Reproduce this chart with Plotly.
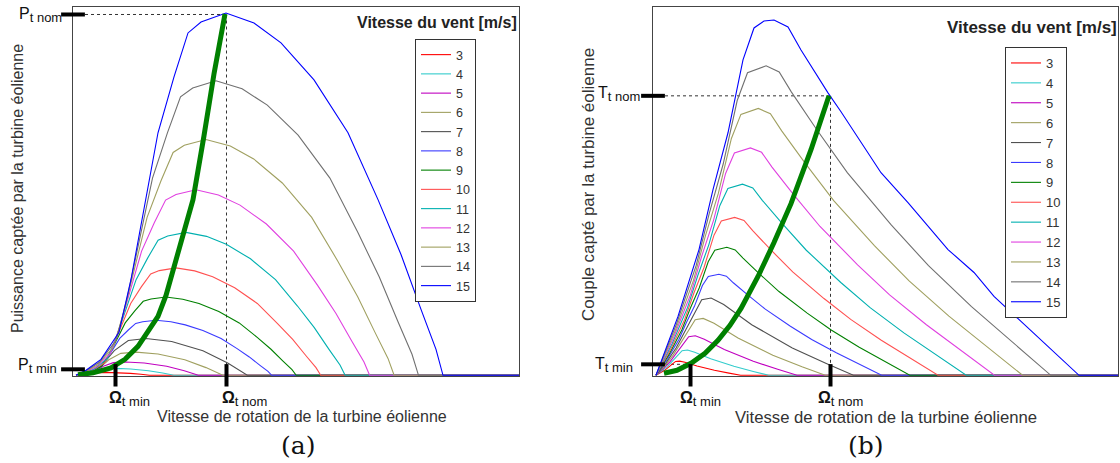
import plotly.graph_objects as go

W, H = 1120, 463
FONT = "Liberation Sans, Arial, sans-serif"

# ---------------- data ----------------
SPEEDS = [3, 4, 5, 6, 7, 8, 9, 10, 11, 12, 13, 14, 15]
COLORS = ["#ff0000", "#33cccc", "#c000c0", "#a0a060", "#505050", "#3a3aff", "#008000",
          "#ff5050", "#00b0b0", "#e040e0", "#a0a060", "#707070", "#0000ff"]

# (a) captured power vs rotation speed (arbitrary units)
w_p03 = [3, 8, 14, 19.4, 25.4, 33, 44, 57.4, 68, 72, 76.4, 446]
p03 = [0, 0.1, 0.8, 1.9, 2.7, 2.9, 2.7, 1.9, 1, 0.5, 0, 0]
w_p04 = [3, 9.7, 17.7, 24.9, 32.9, 43, 57.7, 75.5, 89.7, 95, 100.9, 446]
p04 = [0, 0.3, 1.8, 4.6, 6.5, 6.9, 6.3, 4.6, 2.3, 1.3, 0, 0]
w_p05 = [3, 11.3, 21.3, 30.3, 40.3, 53, 71.3, 93.7, 111.3, 118, 125.3, 446]
p05 = [0, 0.6, 3.6, 9, 12.7, 13.4, 12.3, 9, 4.5, 2.4, 0, 0]
w_p06 = [3, 13, 25, 35.8, 47.8, 63, 85, 111.8, 133, 141, 149.8, 446]
p06 = [0, 1, 6.1, 15.6, 22, 23.2, 21.3, 15.6, 7.7, 4.2, 0, 0]
w_p07 = [3, 14.7, 28.7, 41.3, 55.3, 73, 98.7, 129.9, 154.7, 164, 174.3, 446]
p07 = [0, 1.6, 9.8, 24.7, 34.8, 36.9, 33.8, 24.7, 12.3, 6.7, 0, 0]
w_p08 = [3, 8.3, 16.3, 25.9, 32.3, 40.3, 46.7, 55.3, 62.7, 69.7, 83, 97.9, 112.3, 129.9,
         148.1, 164.1, 176.3, 187, 195, 198.7, 446]
p08 = [0, 0.8, 2.4, 6.5, 14.6, 26.7, 36.9, 45.4, 52, 53.7, 55.1, 53.6, 50.5, 44.9,
       36.9, 26.7, 18.4, 10, 3.9, 0, 0]
w_p09 = [3, 9, 18, 28.8, 36, 45, 52.2, 61.8, 70.2, 78, 93, 109.8, 126, 145.8,
         166.2, 184.2, 198, 210, 219, 223.2, 446]
p09 = [0, 1.1, 3.5, 9.3, 20.7, 38, 52.5, 64.6, 74.1, 76.5, 78.4, 76.2, 71.9, 63.9,
       52.5, 38, 26.1, 14.3, 5.6, 0, 0]
w_p10 = [3, 9.7, 19.7, 31.7, 39.7, 49.7, 57.7, 68.3, 77.7, 86.3, 103, 121.7, 139.7, 161.7,
         184.3, 204.3, 219.7, 233, 243, 247.7, 446]
p10 = [0, 1.5, 4.7, 12.7, 28.4, 52.1, 72, 88.6, 101.6, 104.9, 107.6, 104.6, 98.7, 87.7,
       72, 52.1, 35.9, 19.6, 7.7, 0, 0]
w_p11 = [3, 10.3, 21.3, 34.5, 43.3, 54.3, 63.1, 74.9, 85.1, 94.7, 113, 133.5, 153.3, 177.5,
         202.5, 224.5, 241.3, 256, 267, 272.1, 446]
p11 = [0, 2, 6.3, 17, 37.9, 69.4, 95.8, 117.9, 135.3, 139.6, 143.2, 139.2, 131.3, 116.7,
       95.8, 69.4, 47.7, 26, 10.3, 0, 0]
w_p12 = [3, 11, 23, 37.4, 47, 59, 68.6, 81.4, 92.6, 103, 123, 145.4, 167, 193.4,
         220.6, 244.6, 263, 279, 291, 296.6, 446]
p12 = [0, 2.6, 8.2, 22, 49.2, 90.1, 124.4, 153.1, 175.6, 181.2, 185.9, 180.7, 170.5, 151.6,
       124.4, 90.1, 62, 33.8, 13.3, 0, 0]
w_p13 = [3, 11.7, 24.7, 40.3, 50.7, 63.7, 74.1, 87.9, 100.1, 111.3, 133, 157.3, 180.7, 209.3,
         238.7, 264.7, 284.7, 302, 315, 321.1, 446]
p13 = [0, 3.3, 10.4, 28, 62.5, 114.6, 158.2, 194.6, 223.3, 230.5, 236.3, 229.8, 216.8, 192.7,
       158.2, 114.6, 78.8, 43, 16.9, 0, 0]
w_p14 = [3, 12.3, 26.3, 43.1, 54.3, 68.3, 79.5, 94.5, 107.5, 119.7, 143, 169.1, 194.3, 225.1,
         256.9, 284.9, 306.3, 325, 339, 345.5, 446]
p14 = [0, 4.1, 13, 35, 78, 143.1, 197.6, 243.1, 278.9, 287.8, 295.1, 287, 270.7, 240.6,
       197.6, 143.1, 98.4, 53.7, 21.1, 0, 0]
w_p15 = [3, 13, 28, 46, 58, 73, 85, 101, 115, 128, 153, 181, 208, 241,
         275, 305, 328, 348, 363, 370, 446]
p15 = [0, 5, 16, 43, 96, 176, 243, 299, 343, 354, 363, 353, 333, 296,
       243, 176, 121, 66, 26, 0, 0]

# optimal (MPPT) power curve
w_opt_a = [5, 20, 38, 52, 65, 75, 85, 93, 101, 111, 120, 131, 141, 152]
p_opt = [0.5, 2.5, 7.5, 16, 29, 43, 59, 80, 109, 143, 176, 240, 302, 362]

OMEGA_MIN_A, OMEGA_NOM_A = 42.5, 153.5
P_MIN, P_NOM = 6, 361.5

# (b) captured torque vs rotation speed
w_t03 = [3, 7.4, 11.6, 17.4, 22.6, 26.6, 32, 44, 61.4, 76, 87.6, 465]
t03 = [0, 2.4, 5, 9.7, 13.9, 14.2, 13, 9.3, 5, 2.2, 0, 0]
w_t04 = [3, 8.9, 14.5, 22.2, 29.1, 34.5, 41.7, 57.7, 80.9, 100.3, 115.8, 465]
t04 = [0, 4.2, 9, 17.3, 24.7, 25.3, 23.2, 16.6, 9, 3.8, 0, 0]
w_t05 = [3, 10.3, 17.3, 27, 35.7, 42.3, 51.3, 71.3, 100.3, 124.7, 144, 465]
t05 = [0, 6.6, 14, 27, 38.7, 39.6, 36.2, 25.9, 14, 6, 0, 0]
w_t06 = [3, 11.8, 20.2, 31.8, 42.2, 50.2, 61, 85, 119.8, 149, 172.2, 465]
t06 = [0, 9.4, 20.2, 38.9, 55.7, 57, 52.2, 37.3, 20.2, 8.6, 0, 0]
w_t07 = [3, 13.3, 23.1, 36.6, 48.7, 58.1, 70.7, 98.7, 139.3, 173.3, 200.4, 465]
t07 = [0, 12.9, 27.4, 52.9, 75.8, 77.5, 71, 50.7, 27.4, 11.8, 0, 0]
w_t08 = [3, 8.3, 14.7, 25.9, 33.4, 41.4, 49.4, 55.3, 65.9, 73.4, 80.3, 94.7, 112.3, 137.4,
         158.7, 183.3, 197.7, 213.7, 228.6, 465]
t08 = [0, 7.4, 16.8, 35.8, 52.9, 69.1, 89.9, 99, 101.2, 99.3, 92.7, 80.5, 66.3, 49.2,
       35.8, 22.5, 15.4, 7.4, 0, 0]
w_t09 = [3, 9, 16.2, 28.8, 37.2, 46.2, 55.2, 61.8, 73.8, 82.2, 90, 106.2, 126, 154.2,
         178.2, 205.8, 222, 240, 256.8, 465]
t09 = [0, 9.4, 21.2, 45.4, 67, 87.5, 113.8, 125.3, 128.2, 125.6, 117.4, 101.9, 83.9, 62.3,
       45.4, 28.4, 19.4, 9.4, 0, 0]
w_t10 = [3, 9.7, 17.7, 31.7, 41, 51, 61, 68.3, 81.7, 91, 99.7, 117.7, 139.7, 171,
         197.7, 228.3, 246.3, 266.3, 285, 465]
t10 = [0, 11.6, 26.2, 56, 82.7, 108, 140.4, 154.7, 158.2, 155.1, 144.9, 125.8, 103.6, 76.9,
       56, 35.1, 24, 11.6, 0, 0]
w_t11 = [3, 10.3, 19.1, 34.5, 44.8, 55.8, 66.8, 74.9, 89.5, 99.8, 109.3, 129.1, 153.3, 187.8,
         217.1, 250.9, 270.7, 292.7, 313.2, 465]
t11 = [0, 14, 31.7, 67.8, 100, 130.7, 169.9, 187.2, 191.5, 187.7, 175.3, 152.2, 125.3, 93,
       67.8, 42.5, 29, 14, 0, 0]
w_t12 = [3, 11, 20.6, 37.4, 48.6, 60.6, 72.6, 81.4, 97.4, 108.6, 119, 140.6, 167, 204.6,
         236.6, 273.4, 295, 319, 341.4, 465]
t12 = [0, 16.6, 37.8, 80.6, 119, 155.5, 202.2, 222.7, 227.8, 223.4, 208.6, 181.1, 149.1, 110.7,
       80.6, 50.6, 34.6, 16.6, 0, 0]
w_t13 = [3, 11.7, 22.1, 40.3, 52.4, 65.4, 78.4, 87.9, 105.3, 117.4, 128.7, 152.1, 180.7, 221.4,
         256.1, 295.9, 319.3, 345.3, 369.6, 465]
t13 = [0, 19.5, 44.3, 94.6, 139.7, 182.5, 237.3, 261.4, 267.4, 262.1, 244.9, 212.6, 175, 129.9,
       94.6, 59.3, 40.6, 19.5, 0, 0]
w_t14 = [3, 12.3, 23.5, 43.1, 56.2, 70.2, 84.2, 94.5, 113.1, 126.2, 138.3, 163.5, 194.3, 238.2,
         275.5, 318.5, 343.7, 371.7, 397.8, 465]
t14 = [0, 22.6, 51.4, 109.8, 162, 211.7, 275.3, 303.1, 310.1, 304, 284, 246.5, 203, 150.7,
       109.8, 68.8, 47, 22.6, 0, 0]
w_t15 = [3, 13, 25, 46, 60, 75, 83, 90, 101, 111, 121, 135, 148, 175, 188, 208, 228, 255,
         275, 295, 321, 341, 368, 398, 426, 465]
t15 = [0, 26, 59, 126, 186, 243, 281, 316, 348, 355, 356, 349, 326, 283, 264, 233, 203, 173,
       149, 126, 103, 79, 54, 26, 0, 0]

# optimal torque curve
w_opt_b = [11, 24, 38, 52, 65, 77, 88, 105, 121, 138, 158, 176]
t_opt = [2, 5, 12, 22, 35, 50, 67, 99, 133, 172, 226, 280]

OMEGA_MIN_B, OMEGA_NOM_B = 37.5, 177.5
T_MIN, T_NOM = 11, 280

P_W = [w_p03, w_p04, w_p05, w_p06, w_p07, w_p08, w_p09, w_p10, w_p11, w_p12, w_p13, w_p14, w_p15]
P_V = [p03, p04, p05, p06, p07, p08, p09, p10, p11, p12, p13, p14, p15]
T_W = [w_t03, w_t04, w_t05, w_t06, w_t07, w_t08, w_t09, w_t10, w_t11, w_t12, w_t13, w_t14, w_t15]
T_V = [t03, t04, t05, t06, t07, t08, t09, t10, t11, t12, t13, t14, t15]

# ---------------- figure ----------------
fig = go.Figure()

for v, col, xs, ys in zip(SPEEDS, COLORS, P_W, P_V):
    fig.add_trace(go.Scatter(x=xs, y=ys, mode="lines", name=str(v),
                             line=dict(color=col, width=1.1),
                             xaxis="x", yaxis="y", legend="legend"))
for v, col, xs, ys in zip(SPEEDS, COLORS, T_W, T_V):
    fig.add_trace(go.Scatter(x=xs, y=ys, mode="lines", name=str(v),
                             line=dict(color=col, width=1.1),
                             xaxis="x2", yaxis="y2", legend="legend2"))

fig.add_trace(go.Scatter(x=w_opt_a, y=p_opt, mode="lines", showlegend=False,
                         line=dict(color="#008000", width=5), xaxis="x", yaxis="y"))
fig.add_trace(go.Scatter(x=w_opt_b, y=t_opt, mode="lines", showlegend=False,
                         line=dict(color="#008000", width=5), xaxis="x2", yaxis="y2"))

# black reference tick marks on the axes
tick_h = dict(symbol="line-ew", size=17, color="black", line=dict(width=4, color="black"))
tick_v = dict(symbol="line-ns", size=16, color="black", line=dict(width=4, color="black"))
fig.add_trace(go.Scatter(x=[0, 0], y=[P_MIN, P_NOM], mode="markers", marker=tick_h,
                         cliponaxis=False, showlegend=False, hoverinfo="skip", xaxis="x", yaxis="y"))
fig.add_trace(go.Scatter(x=[OMEGA_MIN_A, OMEGA_NOM_A], y=[0, 0], mode="markers", marker=tick_v,
                         cliponaxis=False, showlegend=False, hoverinfo="skip", xaxis="x", yaxis="y"))
fig.add_trace(go.Scatter(x=[0, 0], y=[T_MIN, T_NOM], mode="markers", marker=tick_h,
                         cliponaxis=False, showlegend=False, hoverinfo="skip", xaxis="x2", yaxis="y2"))
fig.add_trace(go.Scatter(x=[OMEGA_MIN_B, OMEGA_NOM_B], y=[0, 0], mode="markers", marker=tick_v,
                         cliponaxis=False, showlegend=False, hoverinfo="skip", xaxis="x2", yaxis="y2"))

dash = dict(color="#333333", width=1, dash="3px,3px")
shapes = [
    dict(type="line", xref="x", yref="y", x0=0, x1=OMEGA_NOM_A, y0=P_NOM, y1=P_NOM, line=dash, layer="below"),
    dict(type="line", xref="x", yref="y", x0=OMEGA_NOM_A, x1=OMEGA_NOM_A, y0=P_NOM, y1=0, line=dash, layer="below"),
    dict(type="line", xref="x2", yref="y2", x0=0, x1=OMEGA_NOM_B, y0=T_NOM, y1=T_NOM, line=dash, layer="below"),
    dict(type="line", xref="x2", yref="y2", x0=OMEGA_NOM_B, x1=OMEGA_NOM_B, y0=T_NOM, y1=0, line=dash, layer="below"),
    dict(type="line", xref="x2", yref="y2", x0=0, x1=OMEGA_MIN_B, y0=T_MIN, y1=T_MIN, line=dash, layer="below"),
]


def px(xp):
    return xp / W


def py(yp):
    return 1 - yp / H


SUB = "<sub><span style='font-size:13px'>%s</span></sub>"
txt = dict(family=FONT, color="#333333")
ann = []
# legend titles
ann.append(dict(text="<b>Vitesse du vent [m/s]</b>", xref="paper", yref="paper", x=px(519), y=py(23),
                xanchor="right", yanchor="middle", showarrow=False, font=dict(txt, size=16, color="#222222")))
ann.append(dict(text="<b>Vitesse du vent [m/s]</b>", xref="paper", yref="paper", x=px(1119), y=py(27),
                xanchor="right", yanchor="middle", showarrow=False, font=dict(txt, size=17, color="#222222")))
# axis titles
ann.append(dict(text="Vitesse de rotation de la turbine éolienne", xref="paper", yref="paper",
                x=px(301.5), y=py(416), xanchor="center", yanchor="middle", showarrow=False,
                font=dict(txt, size=16)))
ann.append(dict(text="Vitesse de rotation de la turbine éolienne", xref="paper", yref="paper",
                x=px(886), y=py(417), xanchor="center", yanchor="middle", showarrow=False,
                font=dict(txt, size=16.7)))
ann.append(dict(text="Puissance captée par la turbine éolienne", xref="paper", yref="paper",
                x=px(17), y=py(189), xanchor="center", yanchor="middle", textangle=-90, showarrow=False,
                font=dict(txt, size=16)))
ann.append(dict(text="Couple capté par la turbine éolienne", xref="paper", yref="paper",
                x=px(588), y=py(185), xanchor="center", yanchor="middle", textangle=-90, showarrow=False,
                font=dict(txt, size=17)))
# panel letters
for lab, xc in (("(a)", 298), ("(b)", 866)):
    ann.append(dict(text=lab, xref="paper", yref="paper", x=px(xc), y=py(445), xanchor="center",
                    yanchor="middle", showarrow=False,
                    font=dict(family="DejaVu Serif, Liberation Serif, serif", size=25, color="#111111")))
# reference level labels
lab = dict(family=FONT, size=16, color="#111111")
ann.append(dict(text="P" + SUB % "t nom", xref="paper", yref="y", x=px(64), y=P_NOM, yshift=-1,
                xanchor="right", yanchor="middle", showarrow=False, font=lab))
ann.append(dict(text="P" + SUB % "t min", xref="paper", yref="y", x=px(59), y=P_MIN, yshift=3,
                xanchor="right", yanchor="middle", showarrow=False, font=lab))
ann.append(dict(text="T" + SUB % "t nom", xref="paper", yref="y2", x=px(642), y=T_NOM, yshift=2,
                xanchor="right", yanchor="middle", showarrow=False, font=lab))
ann.append(dict(text="T" + SUB % "t min", xref="paper", yref="y2", x=px(635), y=T_MIN, yshift=-1,
                xanchor="right", yanchor="middle", showarrow=False, font=lab))
for xr, xv, sh, s in (("x", OMEGA_MIN_A, -8.5, "t min"), ("x", OMEGA_NOM_A, -6.5, "t nom"),
                      ("x2", OMEGA_MIN_B, -12.5, "t min"), ("x2", OMEGA_NOM_B, -15, "t nom")):
    ann.append(dict(text="<b>Ω</b>" + SUB % s, xref=xr, yref="paper", x=xv, y=py(387), xshift=sh,
                    xanchor="left", yanchor="top", showarrow=False, font=lab))

axis_common = dict(showline=True, mirror=True, linecolor="#444444", linewidth=1, showgrid=False,
                   zeroline=False, showticklabels=False, ticks="", layer="below traces", fixedrange=True)

fig.update_layout(
    width=W, height=H, margin=dict(l=0, r=0, t=0, b=0),
    paper_bgcolor="white", plot_bgcolor="white",
    font=dict(family=FONT, color="#333333"),
    xaxis=dict(axis_common, domain=[px(73), px(519)], range=[0, 446], anchor="y"),
    yaxis=dict(axis_common, domain=[py(376), py(7)], range=[-0.7, 369], anchor="x"),
    xaxis2=dict(axis_common, domain=[px(653), px(1118)], range=[0, 465], anchor="y2"),
    yaxis2=dict(axis_common, domain=[py(376), py(7)], range=[-0.7, 369], anchor="x2"),
    legend=dict(x=px(415), y=py(39), xanchor="left", yanchor="top", bgcolor="white",
                bordercolor="#333333", borderwidth=1, font=dict(family=FONT, size=12.5, color="#333333"),
                tracegroupgap=0),
    legend2=dict(x=px(1005), y=py(47), xanchor="left", yanchor="top", bgcolor="white",
                 bordercolor="#333333", borderwidth=1, font=dict(family=FONT, size=13, color="#333333"),
                 tracegroupgap=0),
    shapes=shapes,
    annotations=ann,
    showlegend=True,
)

fig.write_html("out.html", config={"displayModeBar": False},
               post_script="document.body.style.margin='0';document.body.style.padding='0';")
